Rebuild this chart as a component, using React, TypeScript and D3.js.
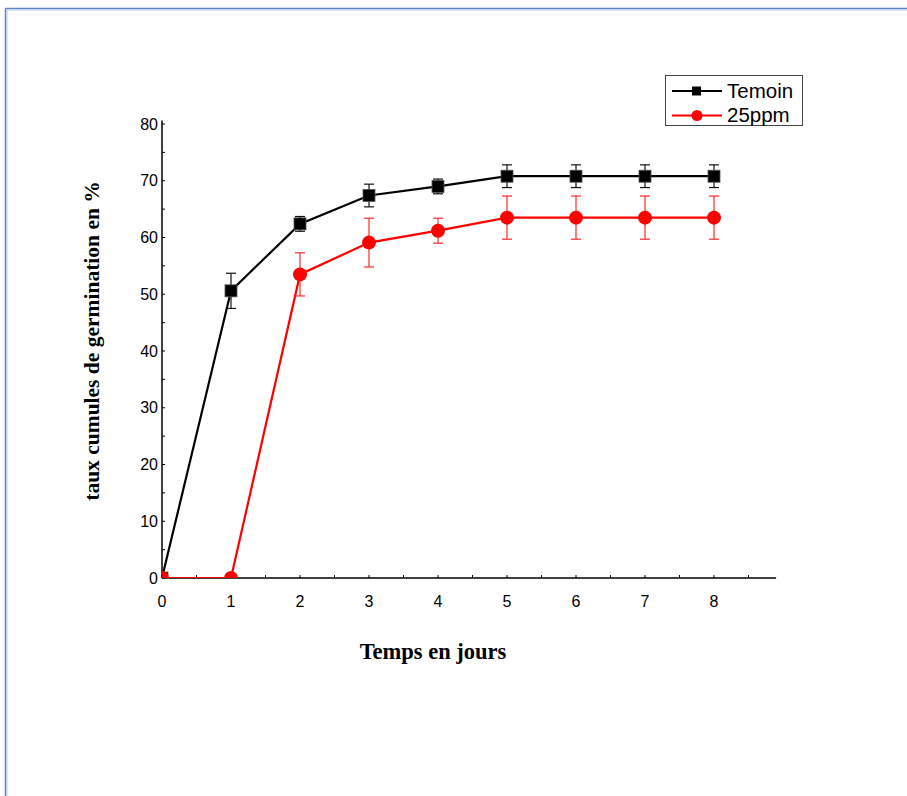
import React from "react";
import * as d3 from "d3";

const days = [0, 1, 2, 3, 4, 5, 6, 7, 8];
const temoin = [0, 50.6, 62.4, 67.4, 69.0, 70.8, 70.8, 70.8, 70.8];
const temoinErr = [0, 3.1, 1.3, 2.0, 1.3, 2.0, 2.0, 2.0, 2.0];
const ppm25 = [0, 0, 53.5, 59.1, 61.2, 63.5, 63.5, 63.5, 63.5];
const ppm25Err = [0, 0, 3.8, 4.3, 2.2, 3.8, 3.8, 3.8, 3.8];
const xTickLabels = [0, 1, 2, 3, 4, 5, 6, 7, 8];
const yTickLabels = [0, 10, 20, 30, 40, 50, 60, 70, 80];
const seriesNames = ["Temoin", "25ppm"];

const W = 907;
const H = 796;

export default function App() {
  const x = d3.scaleLinear().domain([0, 9]).range([162, 783]);
  const y = d3.scaleLinear().domain([0, 80]).range([578, 124]);
  const line = d3
    .line<number>()
    .x((_, i) => x(days[i]))
    .y((v) => y(v));

  const xMinor = d3.range(0, 8.51, 0.5);
  const yMinor = d3.range(0, 80.01, 5);
  const axisFont = "Liberation Sans, Arial, sans-serif";
  const serif = "Liberation Serif, Times New Roman, serif";

  const series = [
    { name: seriesNames[0], vals: temoin, err: temoinErr, color: "#000000", errColor: "#111111", marker: "square" },
    { name: seriesNames[1], vals: ppm25, err: ppm25Err, color: "#ff0000", errColor: "#ff2a2a", marker: "circle" },
  ];

  return (
    <svg
      width={W}
      height={H}
      style={{ position: "absolute", left: 0, top: 0, background: "#fff" }}
      xmlns="http://www.w3.org/2000/svg"
    >
      <rect x={0} y={0} width={W} height={H} fill="#ffffff" />
      {/* page frame */}
      <line x1={5.5} y1={8.5} x2={W + 5} y2={8.5} stroke="#5b84c6" strokeWidth={1.5} />
      <line x1={5.5} y1={8.5} x2={5.5} y2={H + 5} stroke="#5b84c6" strokeWidth={1.5} />
      <line x1={7} y1={10} x2={W + 5} y2={10} stroke="#b8cbea" strokeWidth={1} />
      <line x1={7} y1={10} x2={7} y2={H + 5} stroke="#b8cbea" strokeWidth={1} />

      <defs>
        <clipPath id="plotClip">
          <rect x={x(0)} y={90} width={x(9) - x(0) + 10} height={y(0) - 90} />
        </clipPath>
      </defs>

      {/* axes */}
      <line x1={x(0)} y1={y(0)} x2={x(8.9)} y2={y(0)} stroke="#000" strokeWidth={1.5} />
      <line x1={x(0)} y1={y(0)} x2={x(0)} y2={y(80.6)} stroke="#000" strokeWidth={1.5} />
      {xMinor.map((v) => (
        <line key={"xm" + v} x1={x(v)} x2={x(v)} y1={y(0)} y2={y(0) - 3} stroke="#000" strokeWidth={1} />
      ))}
      {yMinor.map((v) => (
        <line key={"ym" + v} x1={x(0)} x2={x(0) + 3} y1={y(v)} y2={y(v)} stroke="#000" strokeWidth={1} />
      ))}
      {xTickLabels.map((v) => (
        <text key={"xl" + v} x={x(v)} y={607} textAnchor="middle" fontFamily={axisFont} fontSize={16} fill="#000">
          {v}
        </text>
      ))}
      {yTickLabels.map((v) => (
        <text key={"yl" + v} x={158} y={y(v) + 5.5} textAnchor="end" fontFamily={axisFont} fontSize={16} fill="#000">
          {v}
        </text>
      ))}

      {/* axis titles */}
      <text x={433} y={659} textAnchor="middle" fontFamily={serif} fontWeight="bold" fontSize={22.5} fill="#000">
        Temps en jours
      </text>
      <text
        transform={`translate(99,341) rotate(-90)`}
        textAnchor="middle"
        fontFamily={serif}
        fontWeight="bold"
        fontSize={21.5}
        fill="#000"
      >
        taux cumules de germination en %
      </text>

      {/* series */}
      <g clipPath="url(#plotClip)">
        {series.map((s) => (
          <g key={s.name}>
            <path d={line(s.vals) || ""} fill="none" stroke={s.color} strokeWidth={2.2} />
            {s.vals.map((v, i) =>
              s.err[i] > 0 ? (
                <g key={"e" + i} stroke={s.errColor} strokeWidth={1.2}>
                  <line x1={x(days[i])} x2={x(days[i])} y1={y(v - s.err[i])} y2={y(v + s.err[i])} />
                  <line x1={x(days[i]) - 5} x2={x(days[i]) + 5} y1={y(v - s.err[i])} y2={y(v - s.err[i])} />
                  <line x1={x(days[i]) - 5} x2={x(days[i]) + 5} y1={y(v + s.err[i])} y2={y(v + s.err[i])} />
                </g>
              ) : null
            )}
            {s.vals.map((v, i) =>
              s.marker === "square" ? (
                <rect
                  key={"m" + i}
                  x={x(days[i]) - 6}
                  y={y(v) - 6}
                  width={12}
                  height={12}
                  fill="#000"
                  stroke="#555"
                  strokeWidth={0.8}
                />
              ) : (
                <circle key={"m" + i} cx={x(days[i])} cy={y(v)} r={7} fill="#ff0000" />
              )
            )}
          </g>
        ))}
      </g>

      {/* legend */}
      <rect x={665.5} y={75.5} width={137} height={50} fill="#fff" stroke="#444" strokeWidth={1} />
      {series.map((s, i) => {
        const ly = 91 + i * 24.5;
        return (
          <g key={"lg" + s.name}>
            <line x1={672} x2={722} y1={ly} y2={ly} stroke={s.color} strokeWidth={2} />
            {s.marker === "square" ? (
              <rect x={692} y={ly - 4.5} width={9} height={9} fill="#000" />
            ) : (
              <circle cx={697} cy={ly} r={5.5} fill="#ff0000" />
            )}
            <text x={727} y={ly + 6.5} fontFamily={axisFont} fontSize={20.5} fill="#000">
              {s.name}
            </text>
          </g>
        );
      })}
    </svg>
  );
}
